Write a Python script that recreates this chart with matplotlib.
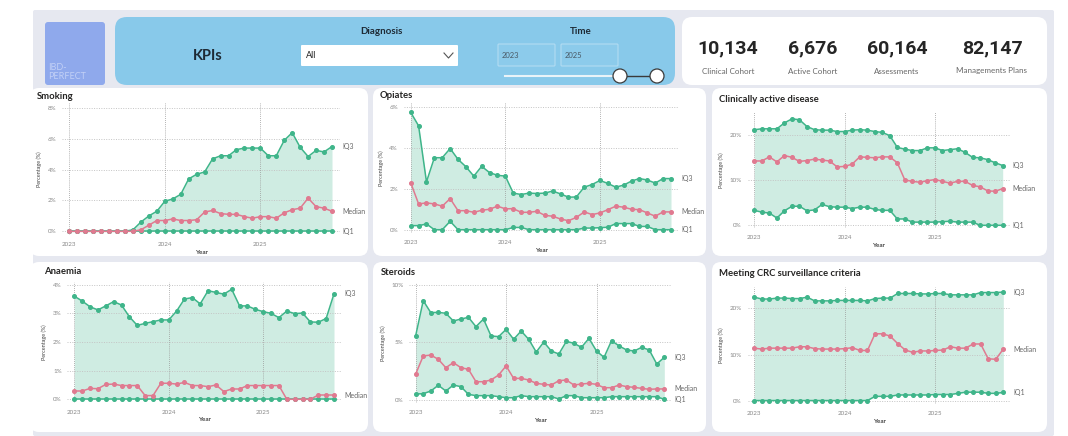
import matplotlib
matplotlib.use("Agg")
import matplotlib.pyplot as plt
from matplotlib.patches import FancyBboxPatch, Circle

plt.rcParams['font.family'] = ['Lato', 'DejaVu Sans']

# ---- data (monthly, Jan 2023 .. Oct 2025) ----
year_labels = ['2023', '2024', '2025']
year_idx = [0, 12, 24]

kpi_values = ['10,134', '6,676', '60,164', '82,147']
kpi_names = ['Clinical Cohort', 'Active Cohort', 'Assessments', 'Managements Plans']

smoking_iq3 = [0, 0, 0, 0, 0, 0, 0, 0, 0.1, 0.6, 1.0, 1.3, 1.95, 2.1, 2.4, 3.4, 3.7, 3.85,
               4.7, 4.9, 4.9, 5.3, 5.4, 5.4, 5.4, 4.9, 4.9, 5.9, 6.4, 5.45, 4.85, 5.25, 5.15, 5.5]
smoking_med = [0, 0, 0, 0, 0, 0, 0, 0, 0, 0.1, 0.4, 0.7, 0.7, 0.8, 0.7, 0.7, 0.75, 1.25,
               1.35, 1.15, 1.1, 1.1, 0.95, 0.85, 0.95, 0.95, 0.85, 1.2, 1.4, 1.5, 2.15, 1.6, 1.5, 1.3]
smoking_iq1 = [0, 0, 0, 0, 0, 0, 0, 0, 0, 0, 0, 0, 0, 0, 0, 0, 0,
               0, 0, 0, 0, 0, 0, 0, 0, 0, 0, 0, 0, 0, 0, 0, 0, 0]

opiates_iq3 = [5.74, 5.08, 2.34, 3.52, 3.52, 3.97, 3.44, 3.08, 2.62, 3.1, 2.79, 2.66, 2.62, 1.79,
               1.72, 1.79, 1.77, 1.79, 1.89, 1.75, 1.59, 1.6, 2.08, 2.21, 2.41, 2.26, 2.08, 2.18,
               2.38, 2.5, 2.43, 2.28, 2.5, 2.5]
opiates_med = [2.3, 1.26, 1.31, 1.26, 1.15, 1.52, 0.93, 0.93, 0.85, 0.95, 1.0, 1.15, 1.02, 1.03,
               0.85, 0.85, 0.9, 0.7, 0.66, 0.52, 0.44, 0.6, 0.87, 0.74, 0.82, 0.98, 1.15, 1.1,
               1.0, 0.98, 0.82, 0.66, 0.87, 0.87]
opiates_iq1 = [0.2, 0.2, 0.28, 0, 0, 0.41, 0, 0, 0, 0, 0, 0, 0, 0.11, 0.11, 0, 0, 0, 0, 0, 0, 0,
               0.08, 0.08, 0.1, 0.12, 0.3, 0.3, 0.3, 0.16, 0.16, 0, 0, 0]

active_iq3 = [21.1, 21.3, 21.3, 21.3, 22.6, 23.5, 23.3, 21.8, 21.1, 21.0, 21.0, 20.7, 20.7, 21.0,
              21.1, 21.0, 20.7, 20.5, 19.8, 17.2, 16.8, 16.5, 16.5, 17.1, 17.1, 16.5, 16.7, 16.9,
              16.1, 15.0, 14.9, 14.5, 13.8, 13.2]
active_med = [14.2, 14.2, 15.1, 14.0, 15.4, 15.0, 14.1, 14.3, 14.6, 14.4, 14.2, 12.9, 13.0, 13.5,
              15.1, 15.0, 14.9, 15.1, 15.1, 13.8, 10.0, 9.7, 9.5, 9.85, 10.1, 9.7, 9.3, 9.7,
              9.7, 8.8, 8.5, 7.6, 7.5, 8.1]
active_iq1 = [3.3, 2.9, 2.7, 1.6, 3.2, 4.2, 4.2, 3.2, 3.4, 4.6, 4.1, 4.0, 4.0, 3.7, 4.0, 4.0, 3.5,
              3.3, 3.3, 1.4, 1.4, 0.7, 0.7, 0.7, 0.7, 0.8, 0.9, 0.7, 0.7, 0.7, 0, 0, 0, 0]

anaemia_iq3 = [3.6, 3.43, 3.23, 3.12, 3.26, 3.41, 3.29, 2.88, 2.58, 2.65, 2.71, 2.77, 2.77, 3.08,
               3.5, 3.55, 3.33, 3.79, 3.73, 3.67, 3.84, 3.26, 3.26, 3.14, 3.06, 3.0, 2.85, 3.08,
               2.99, 3.01, 2.7, 2.69, 2.82, 3.68]
anaemia_med = [0.29, 0.29, 0.38, 0.37, 0.52, 0.53, 0.48, 0.48, 0.48, 0.13, 0.13, 0.56, 0.56, 0.53,
               0.59, 0.48, 0.48, 0.44, 0.5, 0.27, 0.36, 0.36, 0.48, 0.48, 0.48, 0.48, 0.48, 0, 0,
               0, 0, 0.15, 0.15, 0.15]
anaemia_iq1 = [0, 0, 0, 0, 0, 0, 0, 0, 0, 0, 0, 0, 0, 0, 0, 0, 0,
               0, 0, 0, 0, 0, 0, 0, 0, 0, 0, 0, 0, 0, 0, 0, 0, 0]

steroids_iq3 = [5.6, 8.64, 7.6, 7.62, 7.54, 6.87, 7.04, 7.19, 6.38, 7.04, 5.57, 5.51, 6.14, 5.28,
                6.0, 5.28, 4.17, 5.04, 4.26, 4.0, 5.1, 4.93, 4.58, 5.36, 4.26, 3.71, 5.16, 4.7,
                4.35, 4.26, 4.58, 4.35, 3.13, 3.71]
steroids_med = [2.26, 3.83, 3.91, 3.54, 2.81, 3.25, 2.81, 2.67, 1.59, 1.59, 1.74, 2.17, 2.96, 1.88,
                1.88, 1.74, 1.45, 1.36, 1.3, 1.68, 1.74, 1.3, 1.39, 1.45, 1.36, 1.07, 1.07, 1.3,
                1.16, 1.1, 1.01, 0.93, 0.96, 0.96]
steroids_iq1 = [0.52, 0.55, 0.78, 1.28, 0.78, 1.3, 1.16, 0.49, 0.38, 0.38, 0.38, 0.29, 0.2, 0.2,
                0.38, 0.29, 0.29, 0.29, 0.29, 0.09, 0.38, 0.38, 0.2, 0.2, 0.2, 0.2, 0.29, 0.29,
                0.29, 0.29, 0.29, 0.29, 0.29, 0.05]

crc_iq3 = [22.4, 22.0, 22.0, 22.2, 22.2, 22.1, 22.1, 22.4, 21.6, 21.6, 21.6, 21.7, 21.7, 21.7,
           21.7, 21.6, 22.1, 22.2, 22.2, 23.2, 23.2, 23.2, 23.1, 23.1, 23.2, 23.2, 22.9, 22.9,
           22.9, 22.9, 23.4, 23.4, 23.4, 23.5]
crc_med = [11.4, 11.2, 11.4, 11.4, 11.4, 11.4, 11.7, 11.7, 11.3, 11.2, 11.2, 11.2, 11.3, 11.5,
           10.9, 10.9, 14.5, 14.5, 14.0, 12.4, 11.0, 10.5, 10.8, 10.8, 10.9, 11.0, 11.7, 11.4,
           11.4, 12.3, 12.3, 9.1, 9.0, 11.2]
crc_iq1 = [0.1, 0.1, 0.1, 0.1, 0.1, 0.1, 0.1, 0.1, 0.1, 0.1, 0.1, 0.1, 0.1, 0.1, 0.1, 0.1,
           1.0, 1.0, 1.0, 1.3, 1.3, 1.3, 1.3, 1.3, 1.4, 1.4, 1.4, 1.65, 1.9, 1.9, 1.9, 1.65, 1.65, 1.85]

GREEN = '#3fb58a'
PINK = '#e07a90'
FILL = '#cfece2'
W, H = 1068, 436

fig = plt.figure(figsize=(W / 100, H / 100), dpi=100)
fig.patch.set_facecolor('white')

# background axes in pixel coords
bg = fig.add_axes([0, 0, 1, 1])
bg.set_xlim(0, W)
bg.set_ylim(H, 0)
bg.axis('off')


def box(x0, y0, x1, y1, fc, r=8, ec='none', lw=0):
    bg.add_patch(FancyBboxPatch((x0, y0), x1 - x0, y1 - y0,
                                boxstyle=f"round,pad=0,rounding_size={r}",
                                fc=fc, ec=ec, lw=lw))


box(33, 10, 1054, 436, '#e6e8f0', r=2)

# logo
box(45, 22, 105, 85, '#8fa9ec', r=3)
bg.text(48, 72, 'IBD-\nPERFECT', fontsize=6.5, color='#c2d0f6', va='center', ha='left',
        linespacing=0.95)

# header
box(115, 17, 675, 85, '#88c9ea', r=12)
bg.text(208, 56, 'KPIs', fontsize=10.5, fontweight='bold', color='#1e2a35', ha='center', va='center')
bg.text(381, 31, 'Diagnosis', fontsize=7, fontweight='bold', color='#1e2a35', ha='center', va='center')
bg.text(581, 31, 'Time', fontsize=7, fontweight='bold', color='#1e2a35', ha='center', va='center')
box(301, 45, 458, 66, 'white', r=1)
bg.text(306, 56, 'All', fontsize=6.5, color='#222222', va='center')
bg.plot([444, 448.5, 453], [53, 58, 53], color='#555555', lw=0.8)
box(498, 44, 555, 66, '#8ccbeb', r=1, ec='#b2dcf2', lw=0.8)
box(561, 44, 618, 66, '#8ccbeb', r=1, ec='#b2dcf2', lw=0.8)
bg.text(502, 55, '2023', fontsize=5.5, color='#4a5a66', va='center')
bg.text(565, 55, '2025', fontsize=5.5, color='#4a5a66', va='center')
bg.plot([505, 620], [76, 76], color='#e9f3f8', lw=1.5)
bg.plot([620, 657], [76, 76], color='#3a3a3a', lw=1.0)
for cx in [620, 657]:
    bg.add_patch(Circle((cx, 76), 7, fc='white', ec='#3a3a3a', lw=0.9, zorder=3))

# KPI card
box(682, 17, 1047, 85, 'white', r=10)
for cx, v, n in zip([728, 813, 897, 992], kpi_values, kpi_names):
    bg.text(cx, 48, v, fontsize=14, fontweight='bold', color='#252525', ha='center', va='center',
            family='Roboto')
    bg.text(cx, 71, n, fontsize=5.8, color='#666666', ha='center', va='center')

# chart panels
panels = [(30, 88, 368, 256), (373, 88, 706, 256), (712, 88, 1047, 256),
          (30, 262, 368, 432), (373, 262, 706, 432), (712, 262, 1047, 432)]
for p in panels:
    box(*p, 'white', r=9)


def chart(title, tpos, px, ticks, ytop, iq3, med, iq1, show_iq1=True):
    x0, x33, y0, ytp = px
    ytv = ticks[-1]
    sx = (x33 - x0) / 33
    sy = (y0 - ytp) / ytv
    xl, xr = -0.9, 34.0
    yb = -0.03 * ytv
    left, right = x0 + xl * sx, x0 + xr * sx
    bot, top = y0 - yb * sy, y0 - ytop * sy
    ax = fig.add_axes([left / W, 1 - bot / H, (right - left) / W, (bot - top) / H])
    ax.set_facecolor('none')
    ax.set_xlim(xl, xr)
    ax.set_ylim(yb, ytop)
    x = list(range(len(iq3)))
    ax.fill_between(x, iq1, iq3, color=FILL, lw=0, zorder=1)
    for t in ticks:
        ax.axhline(t, color='#c4c4c4', ls=(0, (1, 1.5)), lw=0.7, zorder=1.5)
    for t in year_idx:
        ax.axvline(t, color='#9a9a9a', ls=(0, (1, 1.5)), lw=0.6, zorder=1.5)
    ax.plot(x, iq3, color=GREEN, lw=1.1, marker='o', ms=2.6, zorder=3, clip_on=False)
    ax.plot(x, iq1, color=GREEN, lw=1.1, marker='o', ms=2.6, zorder=3, clip_on=False)
    ax.plot(x, med, color=PINK, lw=1.1, marker='o', ms=2.6, zorder=3, clip_on=False)
    lx = len(iq3) - 1 + 1.3
    ax.text(lx, iq3[-1], 'IQ3', fontsize=5, color='#666666', va='center')
    ax.text(lx, med[-1], 'Median', fontsize=5, color='#666666', va='center')
    if show_iq1:
        ax.text(lx, iq1[-1], 'IQ1', fontsize=5, color='#666666', va='center')
    ax.set_yticks(ticks)
    ax.set_yticklabels([f'{t:g}%' for t in ticks])
    ax.set_xticks(year_idx)
    ax.set_xticklabels(year_labels)
    ax.tick_params(length=0, labelsize=4.5, labelcolor='#888888')
    ax.tick_params(axis='y', pad=4)
    ax.tick_params(axis='x', pad=5)
    ax.set_xlabel('Year', fontsize=4.5, fontweight='bold', color='#444444', labelpad=2)
    ax.set_ylabel('Percentage (%)', fontsize=4, color='#444444', labelpad=4)
    for s in ax.spines.values():
        s.set_visible(False)
    bg.text(tpos[0], tpos[1], title, fontsize=6.8, fontweight='bold', color='#252423',
            va='center', ha='left')
    return ax


chart('Smoking', (37, 96), (69.3, 332, 231.3, 108), [0, 2, 4, 6, 8], 8.3,
      smoking_iq3, smoking_med, smoking_iq1)
chart('Opiates', (380, 95), (410.7, 671, 229.7, 107), [0, 2, 4, 6], 6.2,
      opiates_iq3, opiates_med, opiates_iq1)
chart('Clinically active disease', (719, 99), (754.3, 1002.7, 225.3, 134.7), [0, 10, 20], 25,
      active_iq3, active_med, active_iq1)
chart('Anaemia', (44, 271), (74.3, 334, 399.3, 284.7), [0, 1, 2, 3, 4], 4.1,
      anaemia_iq3, anaemia_med, anaemia_iq1, show_iq1=False)
chart('Steroids', (381, 272), (415.7, 664.3, 400, 285), [0, 5, 10], 10.2,
      steroids_iq3, steroids_med, steroids_iq1)
chart('Meeting CRC surveillance criteria', (719, 273), (754.3, 1003.3, 401, 308.3), [0, 10, 20], 24.5,
      crc_iq3, crc_med, crc_iq1)

fig.savefig('out.png', dpi=100, facecolor='white')
